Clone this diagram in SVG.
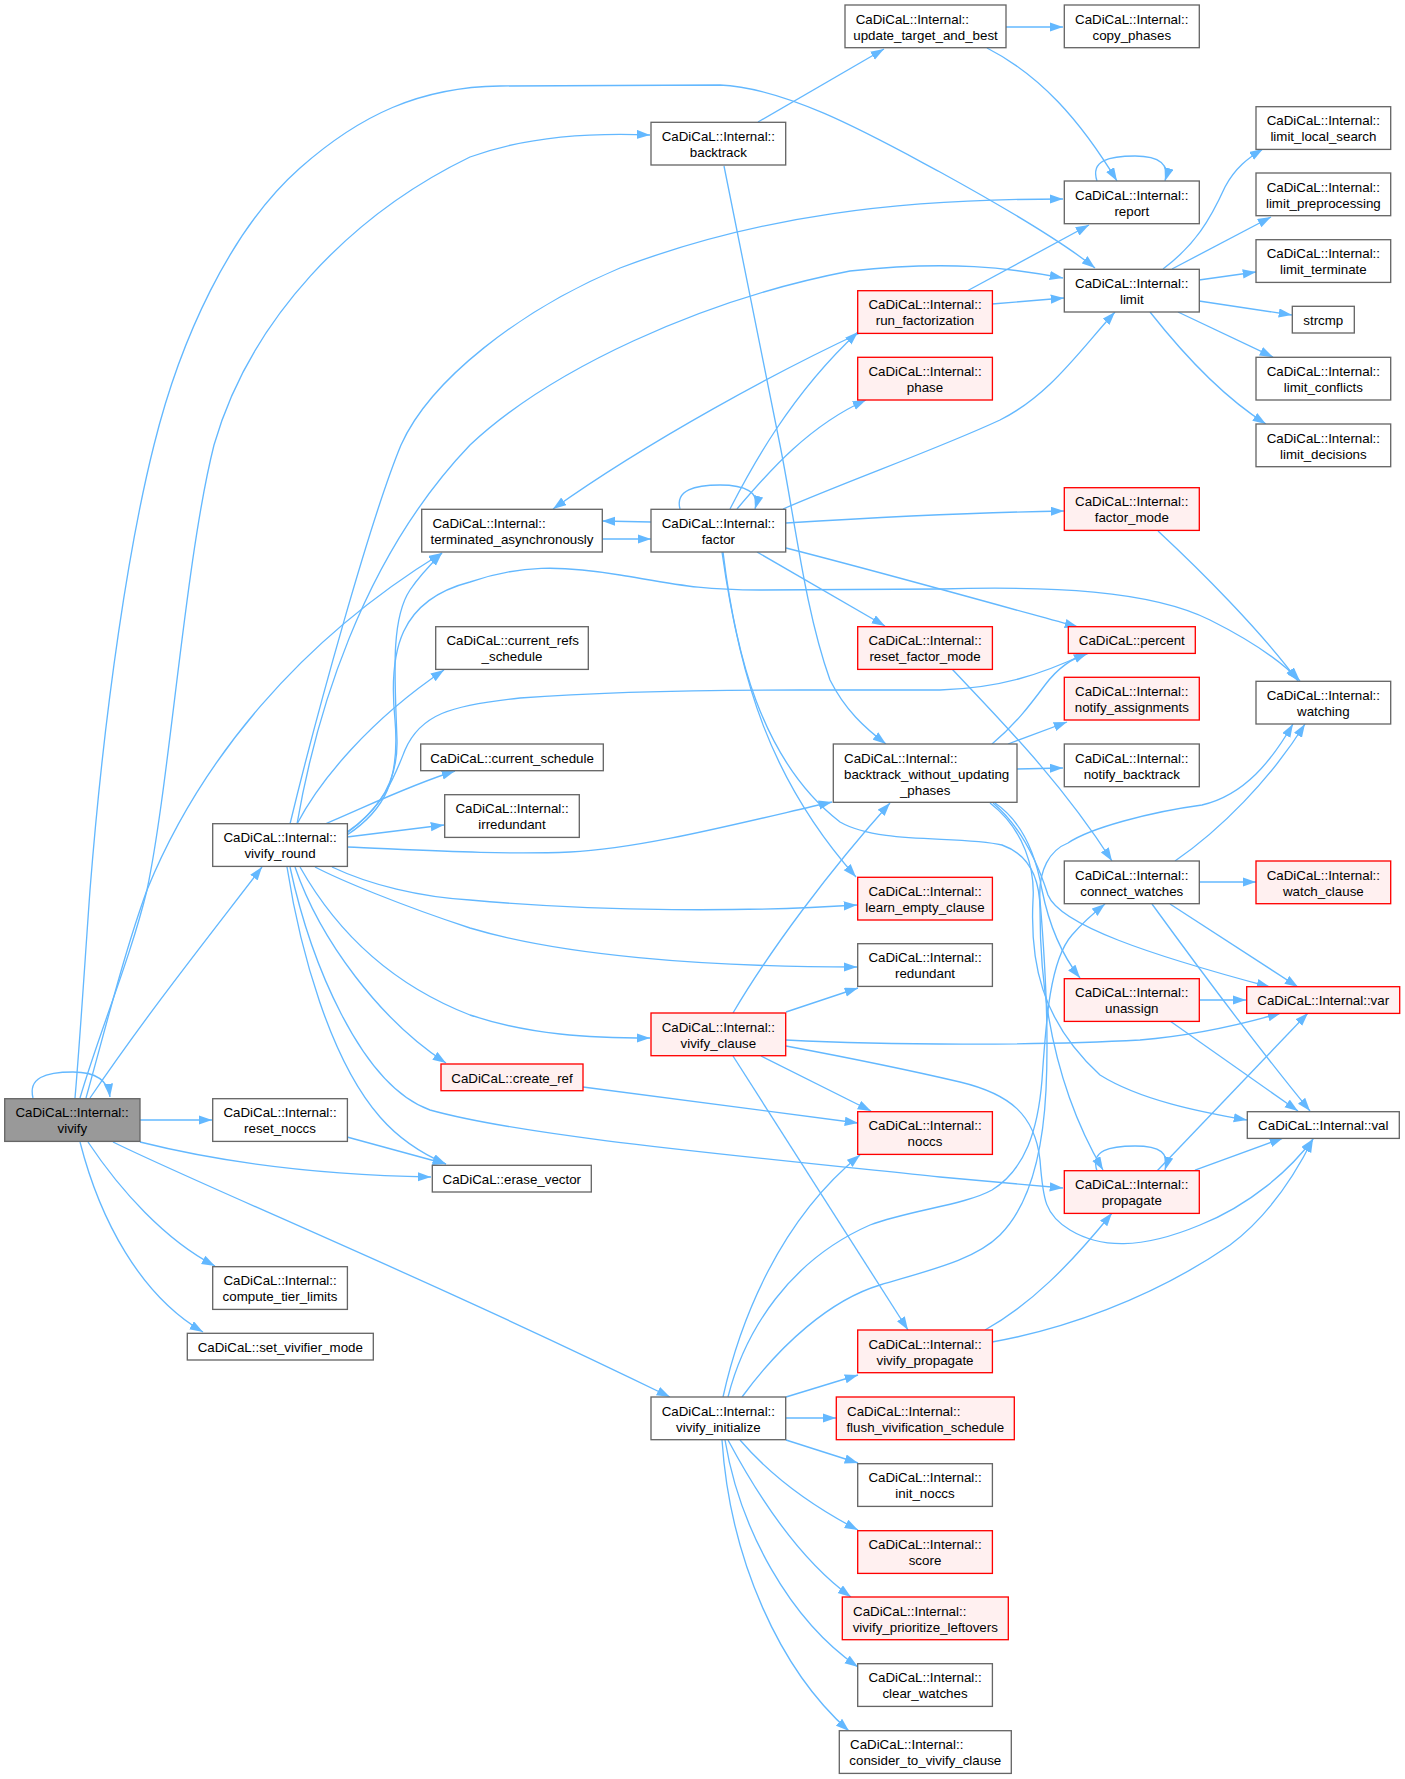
<svg xmlns="http://www.w3.org/2000/svg" width="1405" height="1779" viewBox="0 0 1405 1779">
<style>
.nd{fill:#ffffff;stroke:#666666;stroke-width:1.33}
.rd{fill:#fff0f0;stroke:#ff0000;stroke-width:1.33}
.rt{fill:#999999;stroke:#666666;stroke-width:1.33}
text{font-family:"Liberation Sans",Arial,Helvetica,sans-serif;font-size:13.33px;fill:#000000}
.c{text-anchor:middle}
.l{text-anchor:start}
.e{fill:none;stroke:#63b8ff;stroke-width:1.33;marker-end:url(#ah)}
</style>
<defs>
<marker id="ah" markerUnits="userSpaceOnUse" markerWidth="14" markerHeight="10" viewBox="0 0 14 10" refX="13.3" refY="4.65" orient="auto"><path d="M0,0 L13.3,4.65 L0,9.3 z" fill="#63b8ff"/></marker>
</defs>
<rect x="0" y="0" width="1405" height="1779" fill="#ffffff"/>
<g id="edges">
<path class="e" d="M33,1098 C28,1078 45,1072 73,1072 C96,1072 108,1080 110,1097"/>
<path class="e" d="M90,1098 C150,1010 210,935 262,867"/>
<path class="e" d="M140,1120 L212,1120"/>
<path class="e" d="M140,1142 C220,1162 320,1175 431,1177"/>
<path class="e" d="M88,1142 C120,1190 165,1240 215,1266"/>
<path class="e" d="M80,1142 C100,1220 140,1295 203,1332"/>
<path class="e" d="M113,1142 C200,1185 420,1275 670,1397"/>
<path class="e" d="M80,1098 C100,1030 130,960 147,890 C170,780 185,560 214,445 C250,320 350,215 470,157 C530,135 600,133 650,135"/>
<path class="e" d="M75,1098 C80,1040 85,960 90,890 C105,700 130,540 154,445 C180,340 230,230 300,168 C360,115 420,87 500,86 L720,85 C790,88 880,140 940,172 C1000,205 1060,240 1095,268"/>
<path class="e" d="M86,1098 C105,1030 125,950 147,890 C200,760 300,640 442,553"/>
<path class="e" d="M290,824 C315,720 370,520 401,445 C430,380 520,310 620,268 C760,215 900,199 1063,199"/>
<path class="e" d="M297,824 C315,720 360,560 470,445 C550,370 700,300 850,271 C950,260 1010,268 1063,278"/>
<path class="e" d="M347,832 C380,810 398,780 397,740 C395,680 390,620 410,590 C420,575 430,565 442,553"/>
<path class="e" d="M347,835 C385,810 400,780 395,720 C388,650 400,600 470,582 C520,565 560,565 620,575 C680,585 700,590 760,590 L940,589 C1050,586 1150,590 1210,620 C1250,640 1280,660 1300,681"/>
<path class="e" d="M347,833 C385,805 395,775 405,750 C420,715 450,705 520,698 C600,692 680,690 800,690 L940,690 C1000,688 1040,675 1087,653"/>
<path class="e" d="M297,824 C320,780 370,720 444,670"/>
<path class="e" d="M325,824 C370,805 410,785 455,771"/>
<path class="e" d="M347,837 L444,825"/>
<path class="e" d="M347,847 C420,850 500,855 570,852 C640,849 740,823 832,802"/>
<path class="e" d="M332,867 C370,885 420,897 470,900 C600,912 750,912 857,905"/>
<path class="e" d="M315,867 C340,880 400,905 470,928 C560,955 700,967 857,967"/>
<path class="e" d="M300,867 C330,920 380,980 470,1015 C530,1035 590,1038 650,1038"/>
<path class="e" d="M295,867 C320,940 380,1020 446,1063"/>
<path class="e" d="M290,867 C310,960 360,1085 430,1110 C520,1135 700,1152 940,1177 L1063,1188"/>
<path class="e" d="M287,867 C300,950 330,1060 380,1117 C400,1140 425,1155 446,1164"/>
<path class="e" d="M347,1137 L446,1164"/>
<path class="e" d="M758,122 L884,49"/>
<path class="e" d="M724,166 L780,445 C795,520 805,610 830,680 C845,710 865,728 886,744"/>
<path class="e" d="M1006,27 L1063,27"/>
<path class="e" d="M987,48 C1040,75 1080,120 1117,181"/>
<path class="e" d="M1097,181 C1090,160 1110,156 1135,156 C1160,156 1170,165 1165,181"/>
<path class="e" d="M967,291 L1089,225"/>
<path class="e" d="M992,304 L1064,298"/>
<path class="e" d="M862,332 C780,370 650,440 553,509"/>
<path class="e" d="M680,509 C675,490 695,485 720,485 C745,485 760,492 755,509"/>
<path class="e" d="M651,522 L602,521"/>
<path class="e" d="M602,539 L651,539"/>
<path class="e" d="M730,509 C750,470 790,395 858,332"/>
<path class="e" d="M737,509 C770,470 810,425 866,400"/>
<path class="e" d="M783,509 C850,480 940,448 1000,420 C1050,395 1080,350 1115,312"/>
<path class="e" d="M786,523 C900,516 1000,512 1064,511"/>
<path class="e" d="M786,548 C880,572 980,600 1078,627"/>
<path class="e" d="M757,552 L885,626"/>
<path class="e" d="M722,552 C740,680 770,780 856,877"/>
<path class="e" d="M723,552 C735,650 760,760 840,822 C880,845 960,835 1002,845 C1030,855 1040,880 1040,910 C1040,980 1050,1080 1103,1170"/>
<path class="e" d="M995,803 C1020,820 1035,850 1042,890 C1048,920 1058,950 1080,978"/>
<path class="e" d="M993,803 C1025,830 1040,870 1048,895 C1060,925 1150,955 1270,987"/>
<path class="e" d="M990,803 C1025,830 1035,870 1033,900 C1030,960 1040,1020 1100,1075 C1140,1100 1200,1112 1247,1120"/>
<path class="e" d="M992,744 C1015,725 1030,705 1045,685 C1060,665 1075,657 1089,653"/>
<path class="e" d="M1008,744 L1067,722"/>
<path class="e" d="M1017,769 L1063,768"/>
<path class="e" d="M733,1013 C770,950 830,870 890,803"/>
<path class="e" d="M786,1012 L858,988"/>
<path class="e" d="M786,1040 C900,1046 1050,1045 1140,1040 C1200,1035 1250,1022 1281,1013"/>
<path class="e" d="M786,1046 C850,1058 900,1068 960,1082 C1010,1094 1035,1115 1040,1160 C1043,1200 1045,1215 1070,1230 C1100,1248 1140,1250 1200,1225 C1250,1205 1290,1170 1313,1139"/>
<path class="e" d="M761,1056 L871,1111"/>
<path class="e" d="M733,1056 L908,1330"/>
<path class="e" d="M583,1087 L858,1123"/>
<path class="e" d="M985,1330 C1030,1305 1070,1265 1112,1213"/>
<path class="e" d="M992,1342 C1060,1330 1150,1300 1230,1245 C1270,1215 1295,1175 1313,1139"/>
<path class="e" d="M1199,882 L1256,882"/>
<path class="e" d="M1175,861 C1220,830 1270,780 1305,724"/>
<path class="e" d="M1170,904 L1298,987"/>
<path class="e" d="M1152,904 C1200,970 1260,1050 1310,1111"/>
<path class="e" d="M952,669 C1000,720 1060,780 1112,861"/>
<path class="e" d="M1158,531 C1200,570 1260,630 1298,681"/>
<path class="e" d="M1199,1000 L1246,1000"/>
<path class="e" d="M1170,1021 L1298,1111"/>
<path class="e" d="M1097,1171 C1090,1150 1110,1146 1135,1146 C1160,1146 1170,1153 1165,1170"/>
<path class="e" d="M1157,1171 L1308,1013"/>
<path class="e" d="M1195,1170 L1283,1138"/>
<path class="e" d="M1163,269 C1195,245 1210,220 1225,187 C1235,168 1248,158 1263,149"/>
<path class="e" d="M1172,269 L1271,217"/>
<path class="e" d="M1199,280 L1256,272"/>
<path class="e" d="M1199,301 L1292,315"/>
<path class="e" d="M1178,312 L1273,357"/>
<path class="e" d="M1150,312 C1180,350 1220,395 1266,424"/>
<path class="e" d="M723,1397 C740,1320 780,1220 860,1155"/>
<path class="e" d="M728,1397 C745,1330 790,1260 870,1225 C910,1210 965,1205 992,1190 C1025,1170 1038,1130 1042,1080 C1046,1020 1050,960 1072,935 C1085,920 1095,912 1105,904"/>
<path class="e" d="M742,1397 C780,1345 830,1300 880,1285 C930,1270 975,1260 1000,1235 C1030,1205 1043,1150 1046,1090 C1049,1030 1045,960 1040,900 C1038,870 1050,850 1068,843 C1090,828 1150,812 1202,805 C1245,795 1272,760 1293,724"/>
<path class="e" d="M786,1397 L858,1375"/>
<path class="e" d="M786,1418 L836,1418"/>
<path class="e" d="M786,1440 L858,1463"/>
<path class="e" d="M740,1440 C770,1475 810,1505 858,1530"/>
<path class="e" d="M728,1440 C760,1500 800,1560 851,1597"/>
<path class="e" d="M725,1440 C740,1530 790,1620 858,1667"/>
<path class="e" d="M722,1440 C730,1560 780,1670 849,1731"/>
</g>
<g id="n_vivify"><rect class="rt" x="4.7" y="1098.7" width="135.3" height="42.7"/><text class="l" x="15.4" y="1117.2">CaDiCaL::Internal::</text><text class="c" x="72.35" y="1133.2">vivify</text></g>
<g id="n_vivify_round"><rect class="nd" x="212.7" y="823.7" width="134.7" height="42.7"/><text class="l" x="223.4" y="842.2">CaDiCaL::Internal::</text><text class="c" x="280" y="858.2">vivify_round</text></g>
<g id="n_reset_noccs"><rect class="nd" x="212.7" y="1098.7" width="134.7" height="42.7"/><text class="l" x="223.4" y="1117.2">CaDiCaL::Internal::</text><text class="c" x="280" y="1133.2">reset_noccs</text></g>
<g id="n_compute_tier_limits"><rect class="nd" x="212.7" y="1266.7" width="134.7" height="42.7"/><text class="l" x="223.4" y="1285.2">CaDiCaL::Internal::</text><text class="c" x="280" y="1301.2">compute_tier_limits</text></g>
<g id="n_set_vivifier_mode"><rect class="nd" x="187.3" y="1333.3" width="186" height="26.7"/><text class="c" x="280.3" y="1351.8">CaDiCaL::set_vivifier_mode</text></g>
<g id="n_erase_vector"><rect class="nd" x="432.3" y="1165.3" width="159" height="26.7"/><text class="c" x="511.8" y="1183.8">CaDiCaL::erase_vector</text></g>
<g id="n_create_ref"><rect class="rd" x="441" y="1064" width="142" height="26.7"/><text class="c" x="512" y="1082.5">CaDiCaL::create_ref</text></g>
<g id="n_terminated_asynchronously"><rect class="nd" x="421.7" y="509.3" width="180.6" height="42.7"/><text class="l" x="432.4" y="527.8">CaDiCaL::Internal::</text><text class="c" x="512" y="543.8">terminated_asynchronously</text></g>
<g id="n_current_refs_schedule"><rect class="nd" x="435.7" y="626.7" width="152.6" height="42.7"/><text class="l" x="446.4" y="645.2">CaDiCaL::current_refs</text><text class="c" x="512" y="661.2">_schedule</text></g>
<g id="n_current_schedule"><rect class="nd" x="420.7" y="744" width="182.6" height="26.7"/><text class="c" x="512" y="762.5">CaDiCaL::current_schedule</text></g>
<g id="n_irredundant"><rect class="nd" x="444.7" y="794.7" width="134.6" height="42.7"/><text class="l" x="455.4" y="813.2">CaDiCaL::Internal::</text><text class="c" x="512" y="829.2">irredundant</text></g>
<g id="n_backtrack"><rect class="nd" x="651" y="122.3" width="134.7" height="42.7"/><text class="l" x="661.7" y="140.8">CaDiCaL::Internal::</text><text class="c" x="718.35" y="156.8">backtrack</text></g>
<g id="n_factor"><rect class="nd" x="651" y="509.3" width="134.7" height="42.7"/><text class="l" x="661.7" y="527.8">CaDiCaL::Internal::</text><text class="c" x="718.35" y="543.8">factor</text></g>
<g id="n_vivify_clause"><rect class="rd" x="651" y="1013" width="134.7" height="42.7"/><text class="l" x="661.7" y="1031.5">CaDiCaL::Internal::</text><text class="c" x="718.35" y="1047.5">vivify_clause</text></g>
<g id="n_vivify_initialize"><rect class="nd" x="651" y="1397" width="134.7" height="42.7"/><text class="l" x="661.7" y="1415.5">CaDiCaL::Internal::</text><text class="c" x="718.35" y="1431.5">vivify_initialize</text></g>
<g id="n_update_target_and_best"><rect class="nd" x="845" y="5" width="161" height="42.7"/><text class="l" x="855.7" y="23.5">CaDiCaL::Internal::</text><text class="c" x="925.5" y="39.5">update_target_and_best</text></g>
<g id="n_copy_phases"><rect class="nd" x="1064.3" y="5" width="135" height="42.7"/><text class="l" x="1075" y="23.5">CaDiCaL::Internal::</text><text class="c" x="1131.8" y="39.5">copy_phases</text></g>
<g id="n_report"><rect class="nd" x="1064.3" y="181" width="135" height="42.7"/><text class="l" x="1075" y="199.5">CaDiCaL::Internal::</text><text class="c" x="1131.8" y="215.5">report</text></g>
<g id="n_run_factorization"><rect class="rd" x="857.7" y="290.7" width="134.7" height="42.7"/><text class="l" x="868.4" y="309.2">CaDiCaL::Internal::</text><text class="c" x="925" y="325.2">run_factorization</text></g>
<g id="n_phase"><rect class="rd" x="857.7" y="357.3" width="134.7" height="42.7"/><text class="l" x="868.4" y="375.8">CaDiCaL::Internal::</text><text class="c" x="925" y="391.8">phase</text></g>
<g id="n_limit"><rect class="nd" x="1064.3" y="269.3" width="135" height="42.7"/><text class="l" x="1075" y="287.8">CaDiCaL::Internal::</text><text class="c" x="1131.8" y="303.8">limit</text></g>
<g id="n_limit_local_search"><rect class="nd" x="1256" y="106.7" width="134.7" height="42.7"/><text class="l" x="1266.7" y="125.2">CaDiCaL::Internal::</text><text class="c" x="1323.35" y="141.2">limit_local_search</text></g>
<g id="n_limit_preprocessing"><rect class="nd" x="1256" y="173" width="134.7" height="42.7"/><text class="l" x="1266.7" y="191.5">CaDiCaL::Internal::</text><text class="c" x="1323.35" y="207.5">limit_preprocessing</text></g>
<g id="n_limit_terminate"><rect class="nd" x="1256" y="239.7" width="134.7" height="42.7"/><text class="l" x="1266.7" y="258.2">CaDiCaL::Internal::</text><text class="c" x="1323.35" y="274.2">limit_terminate</text></g>
<g id="n_strcmp"><rect class="nd" x="1292.3" y="306.3" width="62" height="26.7"/><text class="c" x="1323.3" y="324.8">strcmp</text></g>
<g id="n_limit_conflicts"><rect class="nd" x="1256" y="357.3" width="134.7" height="42.7"/><text class="l" x="1266.7" y="375.8">CaDiCaL::Internal::</text><text class="c" x="1323.35" y="391.8">limit_conflicts</text></g>
<g id="n_limit_decisions"><rect class="nd" x="1256" y="424" width="134.7" height="42.7"/><text class="l" x="1266.7" y="442.5">CaDiCaL::Internal::</text><text class="c" x="1323.35" y="458.5">limit_decisions</text></g>
<g id="n_factor_mode"><rect class="rd" x="1064.3" y="487.7" width="135" height="42.7"/><text class="l" x="1075" y="506.2">CaDiCaL::Internal::</text><text class="c" x="1131.8" y="522.2">factor_mode</text></g>
<g id="n_reset_factor_mode"><rect class="rd" x="857.7" y="626.7" width="134.7" height="42.7"/><text class="l" x="868.4" y="645.2">CaDiCaL::Internal::</text><text class="c" x="925" y="661.2">reset_factor_mode</text></g>
<g id="n_percent"><rect class="rd" x="1068.3" y="626.7" width="127" height="26.7"/><text class="c" x="1131.8" y="645.2">CaDiCaL::percent</text></g>
<g id="n_notify_assignments"><rect class="rd" x="1064.3" y="677.3" width="135" height="42.7"/><text class="l" x="1075" y="695.8">CaDiCaL::Internal::</text><text class="c" x="1131.8" y="711.8">notify_assignments</text></g>
<g id="n_watching"><rect class="nd" x="1256" y="681.3" width="134.7" height="42.7"/><text class="l" x="1266.7" y="699.8">CaDiCaL::Internal::</text><text class="c" x="1323.35" y="715.8">watching</text></g>
<g id="n_backtrack_without_updating_phases"><rect class="nd" x="833.3" y="744" width="183.7" height="58.3"/><text class="l" x="844" y="762.5">CaDiCaL::Internal::</text><text class="l" x="844" y="778.5">backtrack_without_updating</text><text class="c" x="925.15" y="794.5">_phases</text></g>
<g id="n_notify_backtrack"><rect class="nd" x="1064.3" y="744" width="135" height="42.7"/><text class="l" x="1075" y="762.5">CaDiCaL::Internal::</text><text class="c" x="1131.8" y="778.5">notify_backtrack</text></g>
<g id="n_learn_empty_clause"><rect class="rd" x="857.7" y="877.3" width="134.7" height="42.7"/><text class="l" x="868.4" y="895.8">CaDiCaL::Internal::</text><text class="c" x="925" y="911.8">learn_empty_clause</text></g>
<g id="n_connect_watches"><rect class="nd" x="1064.3" y="861" width="135" height="42.7"/><text class="l" x="1075" y="879.5">CaDiCaL::Internal::</text><text class="c" x="1131.8" y="895.5">connect_watches</text></g>
<g id="n_watch_clause"><rect class="rd" x="1256" y="861" width="134.7" height="42.7"/><text class="l" x="1266.7" y="879.5">CaDiCaL::Internal::</text><text class="c" x="1323.35" y="895.5">watch_clause</text></g>
<g id="n_redundant"><rect class="nd" x="857.7" y="943.7" width="134.7" height="42.7"/><text class="l" x="868.4" y="962.2">CaDiCaL::Internal::</text><text class="c" x="925" y="978.2">redundant</text></g>
<g id="n_unassign"><rect class="rd" x="1064.3" y="978.7" width="135" height="42.7"/><text class="l" x="1075" y="997.2">CaDiCaL::Internal::</text><text class="c" x="1131.8" y="1013.2">unassign</text></g>
<g id="n_var"><rect class="rd" x="1246.7" y="986.7" width="153" height="26.7"/><text class="c" x="1323.2" y="1005.2">CaDiCaL::Internal::var</text></g>
<g id="n_noccs"><rect class="rd" x="857.7" y="1111.7" width="134.7" height="42.7"/><text class="l" x="868.4" y="1130.2">CaDiCaL::Internal::</text><text class="c" x="925" y="1146.2">noccs</text></g>
<g id="n_val"><rect class="nd" x="1247.3" y="1111.7" width="152" height="26.7"/><text class="c" x="1323.3" y="1130.2">CaDiCaL::Internal::val</text></g>
<g id="n_propagate"><rect class="rd" x="1064.3" y="1170.7" width="135" height="42.7"/><text class="l" x="1075" y="1189.2">CaDiCaL::Internal::</text><text class="c" x="1131.8" y="1205.2">propagate</text></g>
<g id="n_vivify_propagate"><rect class="rd" x="857.7" y="1330" width="134.7" height="42.7"/><text class="l" x="868.4" y="1348.5">CaDiCaL::Internal::</text><text class="c" x="925" y="1364.5">vivify_propagate</text></g>
<g id="n_flush_vivification_schedule"><rect class="rd" x="836.3" y="1397" width="178" height="42.7"/><text class="l" x="847" y="1415.5">CaDiCaL::Internal::</text><text class="c" x="925.3" y="1431.5">flush_vivification_schedule</text></g>
<g id="n_init_noccs"><rect class="nd" x="857.7" y="1463.7" width="134.7" height="42.7"/><text class="l" x="868.4" y="1482.2">CaDiCaL::Internal::</text><text class="c" x="925" y="1498.2">init_noccs</text></g>
<g id="n_score"><rect class="rd" x="857.7" y="1530.7" width="134.7" height="42.7"/><text class="l" x="868.4" y="1549.2">CaDiCaL::Internal::</text><text class="c" x="925" y="1565.2">score</text></g>
<g id="n_vivify_prioritize_leftovers"><rect class="rd" x="842.3" y="1597" width="166" height="42.7"/><text class="l" x="853" y="1615.5">CaDiCaL::Internal::</text><text class="c" x="925.3" y="1631.5">vivify_prioritize_leftovers</text></g>
<g id="n_clear_watches"><rect class="nd" x="857.7" y="1663.7" width="134.7" height="42.7"/><text class="l" x="868.4" y="1682.2">CaDiCaL::Internal::</text><text class="c" x="925" y="1698.2">clear_watches</text></g>
<g id="n_consider_to_vivify_clause"><rect class="nd" x="839.3" y="1730.7" width="172" height="42.7"/><text class="l" x="850" y="1749.2">CaDiCaL::Internal::</text><text class="c" x="925.3" y="1765.2">consider_to_vivify_clause</text></g>
</svg>
